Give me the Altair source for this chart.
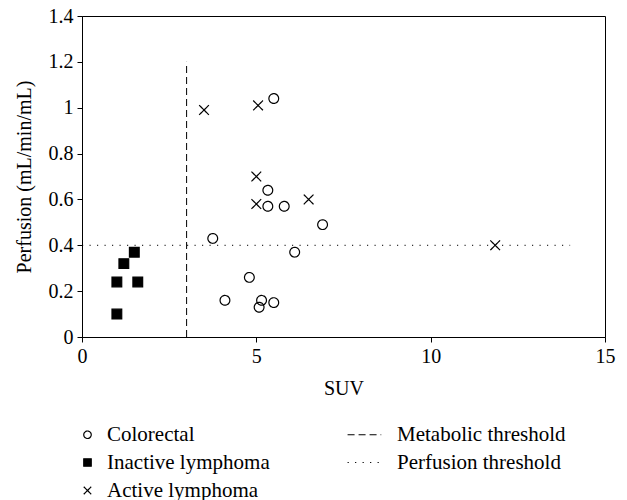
import altair as alt
import pandas as pd

# ---- data ----
colorectal_suv = [5.5, 5.33, 5.33, 5.8, 6.9, 3.75, 6.1, 4.8, 4.1, 5.15, 5.5, 5.08]
colorectal_perf = [1.04, 0.64, 0.57, 0.57, 0.49, 0.43, 0.37, 0.26, 0.16, 0.16, 0.15, 0.13]
inactive_suv = [1.5, 1.2, 1.0, 1.6, 1.0]
inactive_perf = [0.37, 0.32, 0.24, 0.24, 0.10]
active_suv = [3.5, 5.05, 5.0, 5.0, 6.5, 11.85]
active_perf = [0.99, 1.01, 0.70, 0.58, 0.60, 0.40]

metabolic_threshold = 3.0          # SUV
metabolic_span = [0.0, 1.2]        # perfusion extent of the line
perfusion_threshold = 0.4          # mL/min/mL
perfusion_span = [0.0, 14.0]       # SUV extent of the line

series_order = ["Colorectal", "Inactive lymphoma", "Active lymphoma",
                "Metabolic threshold", "Perfusion threshold"]
x_ticks = [0, 5, 10, 15]
y_ticks = [0, 0.2, 0.4, 0.6, 0.8, 1.0, 1.2, 1.4]

# ---- tables ----
rows = []
for s, xs, ys in [("Colorectal", colorectal_suv, colorectal_perf),
                  ("Inactive lymphoma", inactive_suv, inactive_perf),
                  ("Active lymphoma", active_suv, active_perf)]:
    for a, b in zip(xs, ys):
        rows.append({"series": s, "suv": a, "perf": b})
points = pd.DataFrame(rows)

lines = pd.DataFrame([
    {"series": "Metabolic threshold", "x": metabolic_threshold, "x2": metabolic_threshold,
     "y": metabolic_span[0], "y2": metabolic_span[1]},
    {"series": "Perfusion threshold", "x": perfusion_span[0], "x2": perfusion_span[1],
     "y": perfusion_threshold, "y2": perfusion_threshold},
])

LINE_PATH = "M-8,0L1,0"
X_PATH = "M-1,-1L1,1M-1,1L1,-1"

shape_scale = alt.Scale(domain=series_order,
                        range=["circle", "square", X_PATH, LINE_PATH, LINE_PATH])
fill_scale = alt.Scale(domain=series_order,
                       range=["transparent", "black", "transparent", "transparent", "transparent"])
stroke_scale = alt.Scale(domain=series_order,
                         range=["black", "black", "black", "black", "black"])
dash_scale = alt.Scale(domain=series_order,
                       range=[[1, 0], [1, 0], [1, 0], [7, 4], [1.2, 6.3]])

legend = alt.Legend(
    title=None, orient="none", legendX=-5, legendY=408, columns=2,
    columnPadding=75, rowPadding=6, labelOffset=9, padding=0,
    symbolSize=56, symbolStrokeWidth=1.2, symbolStrokeColor="black",
    labelFontSize=21, labelFont="Liberation Serif", labelColor="black",
    labelLimit=400,
)

x_enc_scale = alt.Scale(domain=[0, 15], nice=False, zero=True)
y_enc_scale = alt.Scale(domain=[0, 1.4], nice=False, zero=True)

pts = alt.Chart(points).mark_point(
    size=95, strokeWidth=1.2, opacity=1, filled=True
).encode(
    x=alt.X("suv:Q", scale=x_enc_scale,
            axis=alt.Axis(values=x_ticks, title="SUV", format="~g", labelFlush=False)),
    y=alt.Y("perf:Q", scale=y_enc_scale,
            axis=alt.Axis(values=y_ticks, title="Perfusion (mL/min/mL)", format="~g",
                          labelFlush=False)),
    shape=alt.Shape("series:N", scale=shape_scale, legend=legend),
    fill=alt.Fill("series:N", scale=fill_scale, legend=legend),
    stroke=alt.Stroke("series:N", scale=stroke_scale, legend=legend),
    strokeDash=alt.StrokeDash("series:N", scale=dash_scale, legend=legend),
)

rules = alt.Chart(lines).mark_rule(color="black", strokeWidth=1).encode(
    x=alt.X("x:Q", scale=x_enc_scale),
    x2="x2:Q",
    y=alt.Y("y:Q", scale=y_enc_scale),
    y2="y2:Q",
    strokeDash=alt.StrokeDash("series:N", scale=dash_scale, legend=legend),
)

chart = alt.layer(pts, rules).properties(
    width=523, height=321,
    autosize=alt.AutoSizeParams(type="none"),
    padding={"left": 74, "top": 8, "right": 14, "bottom": 163},
).configure(
    font="Liberation Serif",
).configure_view(
    stroke="black", strokeWidth=1,
).configure_axis(
    grid=False, domainColor="black", domainWidth=1, tickColor="black", tickSize=5,
    labelColor="black", labelFontSize=20, labelFont="Liberation Serif",
    titleColor="black", titleFontSize=20, titleFont="Liberation Serif",
    titleFontWeight="normal", labelPadding=4,
).configure_axisX(titlePadding=12).configure_axisY(titlePadding=14)

chart.save("out.html", embed_options={"renderer": "svg", "actions": False})
